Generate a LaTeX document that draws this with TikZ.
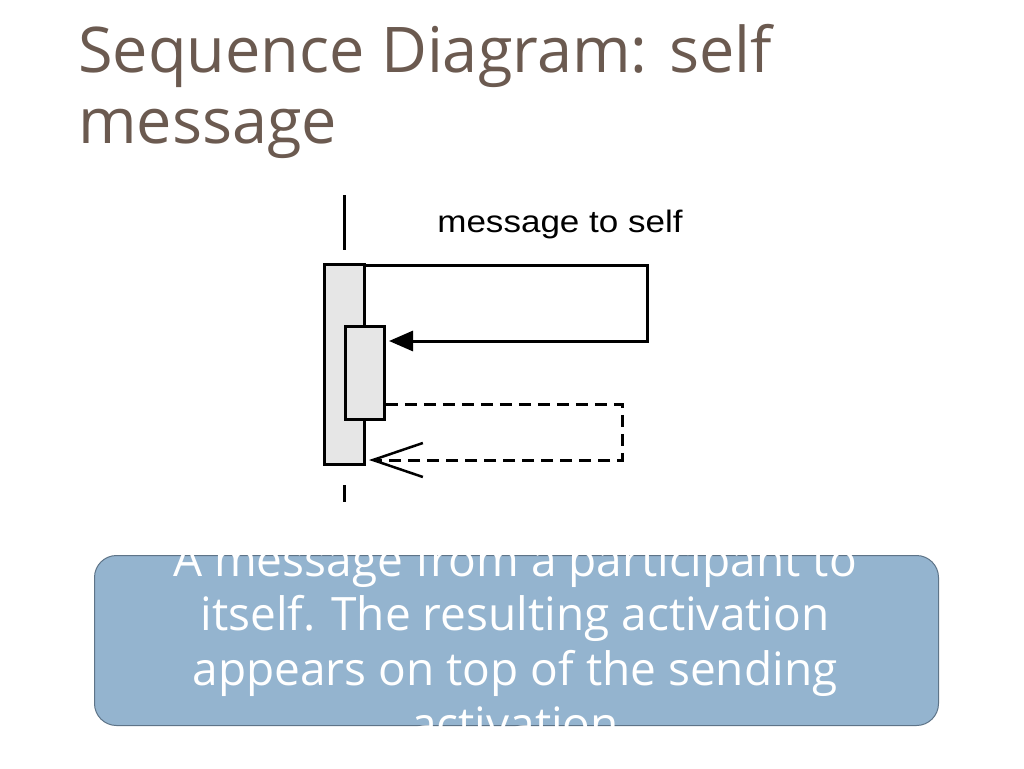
\documentclass[tikz,border=0pt]{standalone}
\usepackage{fontspec}
\setmainfont{Open Sans}
\newfontfamily\lab{Liberation Sans}
\usetikzlibrary{arrows.meta}
\definecolor{titlec}{HTML}{6B5A50}
\definecolor{boxc}{HTML}{94B4CF}
\definecolor{boxb}{HTML}{5E7488}
\definecolor{actc}{HTML}{E6E6E6}
\begin{document}
\begin{tikzpicture}[x=1pt,y=-1pt,
  act/.style={draw=black,line width=2.8pt,fill=actc,inner sep=0pt,anchor=north west},
  msg/.style={line width=3pt},
  ttl/.style={anchor=base west,text=titlec,font=\fontsize{63}{70}\selectfont,inner sep=0pt},
  bl/.style={text=white,font=\fontsize{46}{55}\selectfont,anchor=base,inner sep=0pt}]
\useasboundingbox (0,0) rectangle (1024,768);
\fill[white] (0,0) rectangle (1024,768);
\node[ttl] (title1) at (78,72) {Sequence Diagram: self};
\node[ttl] (title2) at (78,143) {message};
% lifeline
\coordinate (lt) at (344,195);
\coordinate (lb) at (344,250);
\draw[line width=3pt] (lt) -- (lb);
\coordinate (dt) at (344,485);
\coordinate (db) at (344,502);
\draw[line width=3pt] (dt) -- (db);
\node[act,minimum width=40pt,minimum height=200pt] (outer) at (323,263) {};
\node[act,minimum width=39pt,minimum height=93pt] (inner) at (344,325) {};
\node[font=\lab\fontsize{31}{34}\selectfont,anchor=base,xscale=1.13] (ml) at (560,232) {message to self};
\coordinate (m1) at (647,265);
\coordinate (m2) at (647,341);
\coordinate (m3) at (389,341);
\draw[msg,-{Triangle[length=24pt,width=20pt]}] (outer.north east |- m1) -- (m1) -- (m2) -- (m3);
\coordinate (r1) at (622,404);
\coordinate (r2) at (622,460);
\coordinate (r3) at (369,460);
\draw[msg,dash pattern=on 12pt off 7pt,-{Straight Barb[length=50pt,width=34pt,line width=2.5pt]}] (inner.east |- r1) -- (r1) -- (r2) -- (r3);
% box
\node[draw=boxb,line width=1pt,fill=boxc,rounded corners=22pt,minimum width=844pt,minimum height=170pt,anchor=north west] (box) at (94,555) {};
\node[bl] (b1) at (515,576) {A message from a participant to};
\node[bl] (b2) at (515,630) {itself. The resulting activation};
\node[bl] (b3) at (515,685) {appears on top of the sending};
\node[bl] (b4) at (515,740) {activation};
\end{tikzpicture}
\end{document}
